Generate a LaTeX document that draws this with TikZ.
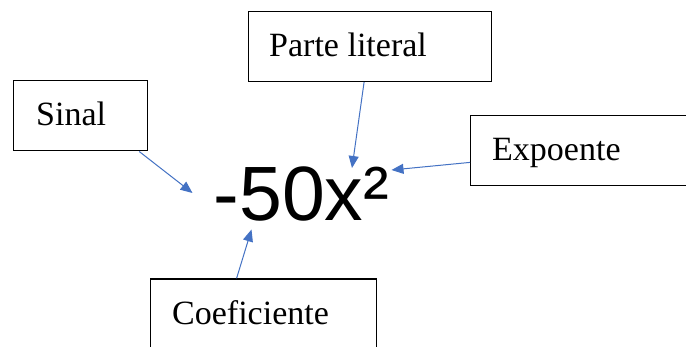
\documentclass[tikz,border=0pt]{standalone}
\usepackage{fontspec}
\setmainfont{Liberation Serif}
\newfontfamily\arialfont{Liberation Sans}
\usetikzlibrary{arrows.meta}
\definecolor{arrblue}{HTML}{4472C4}
\begin{document}
\begin{tikzpicture}[x=1pt,y=1pt,
  box/.style={draw=black,line width=1.2pt,rectangle,inner sep=0pt,anchor=south west},
  lbl/.style={anchor=base west,inner sep=0pt,font=\fontsize{34}{40}\selectfont},
  arr/.style={draw=arrblue,line width=1pt,-{Triangle[length=12pt,width=10pt]}}]
\useasboundingbox (0,0) rectangle (686,346);
\clip (0,0) rectangle (686,346);
\fill[white] (0,0) rectangle (686,346);
% boxes
\node[box,minimum width=134pt,minimum height=70pt] (sinal) at (13,194.5) {};
\node[box,minimum width=243pt,minimum height=70pt] (parte) at (248,264) {};
\node[box,minimum width=240pt,minimum height=70pt] (expo) at (470,160) {};
\node[box,minimum width=226pt,minimum height=80pt] (coef) at (150,-13.5) {};
% labels
\node[lbl] (tsinal) at (36,220) {Sinal};
\node[lbl] (tparte) at (269,289.5) {Parte literal};
\node[lbl] (texpo) at (492,185) {Expoente};
\node[lbl] (tcoef) at (172,22) {Coeficiente};
% formula
\node[anchor=base west,inner sep=0pt,font=\arialfont\fontsize{77}{80}\selectfont] (formula) at (213.5,125) {-50x²};
% arrow ends
\coordinate (esinal) at (192.5,153);
\coordinate (eparte) at (352,178);
\coordinate (eexpo) at (391.5,176);
\coordinate (ecoef) at (251.5,116.5);
\draw[arr] ([xshift=-9pt]sinal.south east) -- (esinal);
\draw[arr] ([xshift=-6pt]parte.south) -- (eparte);
\draw[arr] ([yshift=-12pt]expo.west) -- (eexpo);
\draw[arr] ([xshift=-27pt]coef.north) -- (ecoef);
\end{tikzpicture}
\end{document}
